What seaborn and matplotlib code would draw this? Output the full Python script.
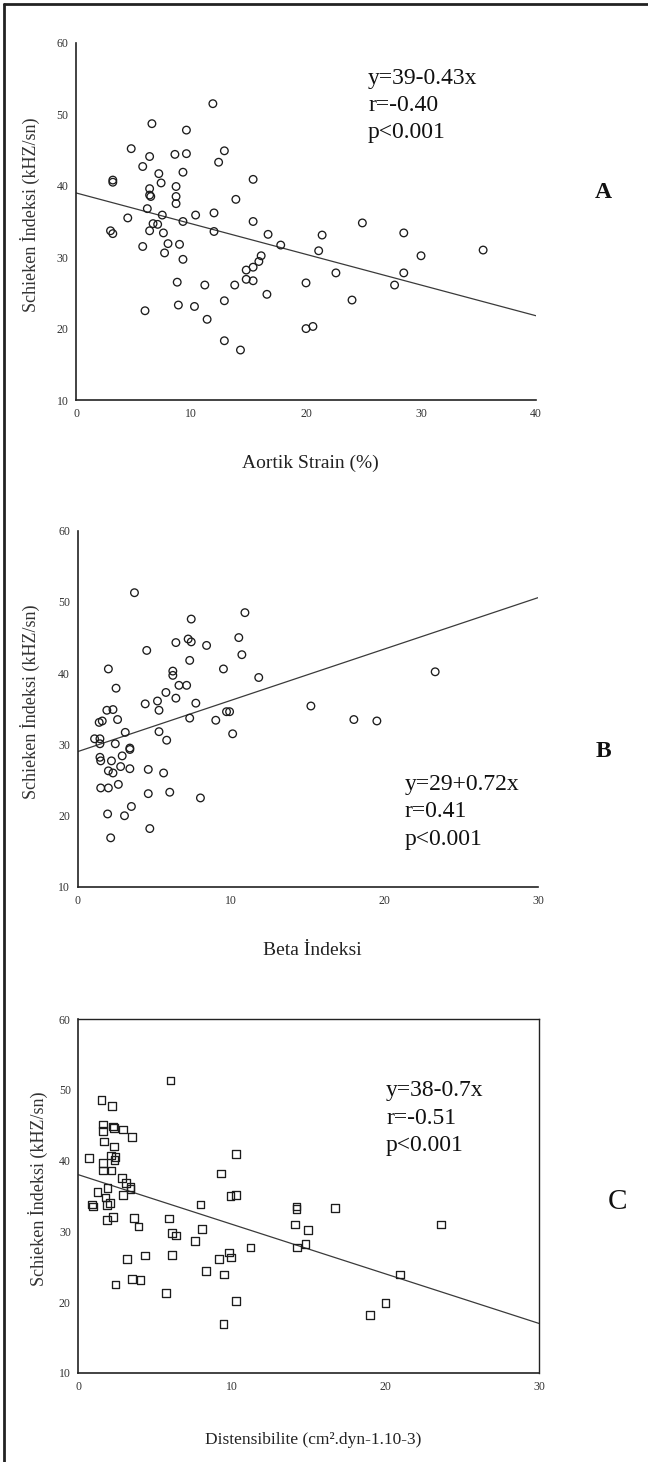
# coding: utf-8
"""
Schieken indeksi ile aortik strain, beta indeksi ve distensibilite
arasindaki iliskiyi gosteren uc panelli sacilim grafigi
"""

import numpy as np
import pandas as pd
import seaborn as sns
from matplotlib import pyplot as plt
from matplotlib.lines import Line2D

# ---- panel A: aortik strain ----
strain_x = [11.9, 6.6, 9.6, 4.8, 6.4, 8.6, 9.6, 12.9, 12.4, 5.8, 7.2, 7.4, 9.3, 3.2, 3.2,
            15.4, 6.4, 6.4, 6.5, 8.7, 8.7, 8.7, 13.9, 6.2, 4.5, 7.5, 10.4, 12.0, 9.3, 15.4,
            6.7, 7.1, 3.0, 3.2, 6.4, 7.6, 12.0, 16.7, 21.4, 17.8, 5.8, 8.0, 9.0, 7.7, 9.3,
            21.1, 16.1, 15.9, 15.4, 14.8, 14.8, 15.4, 8.8, 11.2, 13.8, 20.0, 22.6, 16.6,
            12.9, 8.9, 10.3, 11.4, 6.0, 20.0, 20.6, 12.9, 14.3, 24.0, 24.9, 28.5, 30.0,
            35.4, 28.5, 27.7]
strain_y = [51.5, 48.7, 47.8, 45.2, 44.1, 44.4, 44.5, 44.9, 43.3, 42.7, 41.7, 40.4, 41.9,
            40.8, 40.5, 40.9, 39.6, 38.7, 38.5, 39.9, 38.5, 37.5, 38.1, 36.8, 35.5, 35.9,
            35.9, 36.2, 35.0, 35.0, 34.7, 34.6, 33.7, 33.3, 33.7, 33.4, 33.6, 33.2, 33.1,
            31.7, 31.5, 31.9, 31.8, 30.6, 29.7, 30.9, 30.2, 29.4, 28.6, 28.2, 26.9, 26.7,
            26.5, 26.1, 26.1, 26.4, 27.8, 24.8, 23.9, 23.3, 23.1, 21.3, 22.5, 20.0, 20.3,
            18.3, 17.0, 24.0, 34.8, 33.4, 30.2, 31.0, 27.8, 26.1]

# ---- panel B: beta indeksi ----
beta_x = [3.7, 10.9, 7.4, 7.2, 7.4, 6.4, 8.4, 10.5, 4.5, 10.7, 7.3, 9.5, 6.2, 6.2, 2.0,
          11.8, 2.5, 6.6, 7.1, 5.75, 6.4, 4.4, 5.2, 5.3, 7.7, 1.9, 2.3, 7.3, 9.0, 9.7, 9.9,
          1.4, 1.6, 2.6, 10.1, 3.1, 5.3, 5.8, 1.1, 1.45, 1.45, 2.45, 3.4, 3.4, 2.9, 1.45,
          1.5, 2.2, 2.8, 2.0, 2.3, 3.4, 4.6, 5.6, 1.5, 2.0, 2.65, 4.6, 6.0, 8.0, 3.5, 1.95,
          3.05, 4.7, 2.15, 15.2, 18.0, 19.5, 23.3]
beta_y = [51.3, 48.5, 47.6, 44.8, 44.4, 44.3, 43.9, 45.0, 43.2, 42.6, 41.8, 40.6, 40.3,
          39.7, 40.6, 39.4, 37.9, 38.3, 38.3, 37.3, 36.5, 35.7, 36.1, 34.8, 35.8, 34.8,
          34.9, 33.7, 33.4, 34.6, 34.6, 33.1, 33.3, 33.5, 31.5, 31.7, 31.8, 30.6, 30.8,
          30.8, 30.1, 30.1, 29.5, 29.3, 28.4, 28.2, 27.7, 27.7, 26.9, 26.3, 26.0, 26.6,
          26.5, 26.0, 23.9, 23.9, 24.4, 23.1, 23.3, 22.5, 21.3, 20.25, 20.0, 18.2, 16.9,
          35.4, 33.5, 33.3, 40.2]

# ---- panel C: distensibilite ----
dist_x = [6.0, 1.5, 2.2, 1.6, 1.6, 2.25, 2.3, 2.9, 3.5, 1.65, 2.3, 2.1, 2.4, 2.35, 0.7,
          1.6, 1.6, 2.15, 10.25, 9.3, 2.85, 3.1, 3.4, 3.4, 1.25, 1.9, 1.75, 1.85, 2.05,
          0.9, 0.95, 2.9, 9.9, 10.25, 1.85, 2.25, 3.6, 3.9, 7.95, 5.9, 6.1, 6.35, 8.05,
          7.6, 14.2, 14.2, 16.7, 14.1, 14.95, 14.25, 14.8, 11.2, 3.15, 4.35, 6.1, 9.15,
          9.8, 9.95, 8.3, 9.5, 3.5, 4.05, 2.4, 5.7, 10.25, 9.45, 19.0, 20.0, 20.95, 23.6]
dist_y = [51.3, 48.6, 47.7, 45.1, 44.2, 44.8, 44.6, 44.4, 43.3, 42.7, 42.0, 40.7, 40.5,
          40.1, 40.4, 39.7, 38.6, 38.6, 40.9, 38.2, 37.5, 36.8, 36.3, 36.0, 35.6, 36.1,
          34.8, 33.7, 34.0, 33.8, 33.5, 35.1, 35.0, 35.1, 31.6, 32.0, 31.9, 30.7, 33.8,
          31.8, 29.8, 29.4, 30.3, 28.6, 33.5, 33.2, 33.3, 31.0, 30.2, 27.75, 28.2, 27.75,
          26.1, 26.6, 26.7, 26.1, 27.0, 26.3, 24.4, 23.9, 23.3, 23.1, 22.5, 21.3, 20.2,
          16.9, 18.2, 19.85, 23.9, 30.95]

# regresyon katsayilari (sekildeki denklemlerden)
fit_a = (39, -0.43)
fit_b = (29, 0.72)
fit_c = (38, -0.7)

y_label = 'Schieken İndeksi (kHZ/sn)'
y_ticks = [10, 20, 30, 40, 50, 60]


def draw_panel(ax, x, y, fit, xmax, marker, xlabel, xlabel_size, stats, stats_pos,
               letter, letter_pos, letter_font, box=False, ylab_x=-0.078, xlab_y=-0.152):
    """
    tek bir sacilim paneli cizer
    """
    df = pd.DataFrame({'x': x, 'y': y})
    sns.scatterplot(data=df, x='x', y='y', ax=ax, marker=marker, s=30,
                    facecolors='none', edgecolor='#1c1c1c', linewidth=0.95, zorder=3)

    # regresyon dogrusu
    line_x = np.array([0, xmax])
    line_df = pd.DataFrame({'x': line_x, 'y': fit[0] + fit[1] * line_x})
    sns.lineplot(data=line_df, x='x', y='y', ax=ax, color='#3a3a3a', linewidth=0.9, zorder=2)

    ax.set_xlim(0, xmax)
    ax.set_ylim(10, 60)
    ax.set_xticks(np.arange(0, xmax + 1, 10))
    ax.set_yticks(y_ticks)
    ax.tick_params(axis='both', direction='out', length=2.5, width=1.6, color='#222',
                   labelsize=8.5, labelcolor='#333', pad=3)

    for side in ['left', 'bottom']:
        ax.spines[side].set_color('#222')
        ax.spines[side].set_linewidth(1.2)
    if box:
        for side in ['top', 'right']:
            ax.spines[side].set_visible(True)
            ax.spines[side].set_color('#222')
            ax.spines[side].set_linewidth(1.0)
    else:
        sns.despine(ax=ax)

    ax.set_ylabel(y_label, fontsize=13, color='#333')
    ax.yaxis.set_label_coords(ylab_x, 0.52)
    ax.set_xlabel(xlabel, fontsize=xlabel_size, color='#222')
    ax.xaxis.set_label_coords(0.51, xlab_y)

    ax.text(stats_pos[0], stats_pos[1], stats, transform=ax.transAxes, fontsize=17,
            va='center', ha='left', linespacing=1.4, color='#111')
    ax.text(letter_pos[0], letter_pos[1], letter, transform=ax.transAxes,
            ha='center', va='center', color='#111', **letter_font)


def main():
    sns.set_style('white')
    plt.rcParams['font.family'] = ['Liberation Serif', 'DejaVu Serif']

    fig = plt.figure(figsize=(6.48, 14.62), dpi=100)

    ax_a = fig.add_axes([0.1173, 0.7264, 0.7099, 0.2442])
    ax_b = fig.add_axes([0.1199, 0.3933, 0.7103, 0.2437])
    ax_c = fig.add_axes([0.1211, 0.0609, 0.7106, 0.2421])

    draw_panel(ax_a, strain_x, strain_y, fit_a, 40, 'o', 'Aortik Strain (%)', 14,
               'y=39-0.43x\nr=-0.40\np<0.001', (0.635, 0.825),
               'A', (1.146, 0.58), {'fontsize': 17, 'fontweight': 'bold'})
    draw_panel(ax_b, beta_x, beta_y, fit_b, 30, 'o', 'Beta İndeksi', 14,
               'y=29+0.72x\nr=0.41\np<0.001', (0.711, 0.211),
               'B', (1.143, 0.38), {'fontsize': 17, 'fontweight': 'bold'},
               ylab_x=-0.082, xlab_y=-0.155)
    draw_panel(ax_c, dist_x, dist_y, fit_c, 30, 's', 'Distensibilite (cm².dyn-1.10-3)', 12.5,
               'y=38-0.7x\nr=-0.51\np<0.001', (0.668, 0.72),
               'C', (1.17, 0.482), {'fontsize': 21},
               box=True, ylab_x=-0.066, xlab_y=-0.167)

    # dis cerceve (taranmis sayfa kenari)
    fig.add_artist(Line2D([4 / 648, 4 / 648], [0, 1 - 4 / 1462], transform=fig.transFigure,
                          color='#222', linewidth=2))
    fig.add_artist(Line2D([4 / 648, 1], [1 - 4 / 1462, 1 - 4 / 1462], transform=fig.transFigure,
                          color='#222', linewidth=2))

    fig.savefig('out.png', dpi=100, facecolor='white')


if __name__ == '__main__':
    main()
